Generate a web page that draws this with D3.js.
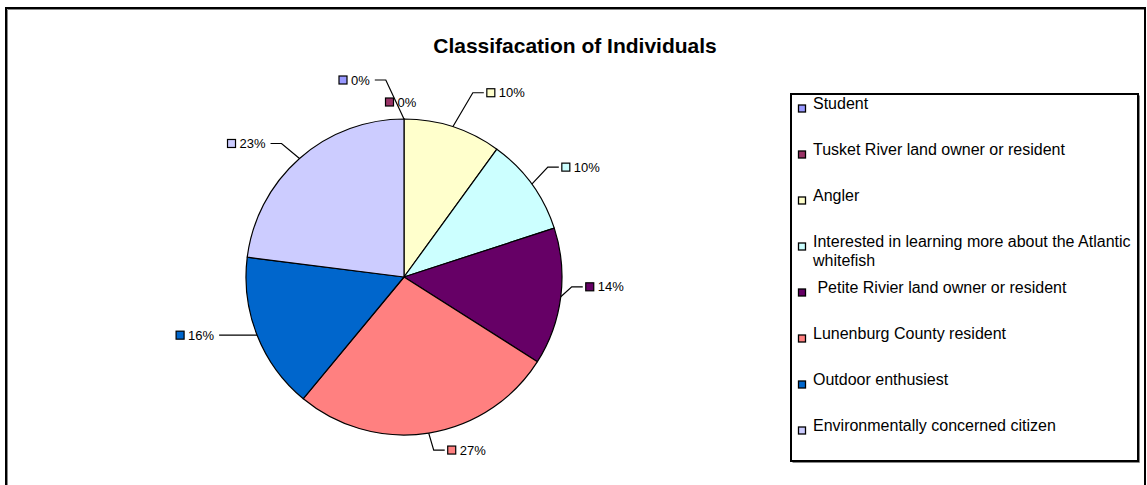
<!DOCTYPE html>
<html>
<head>
<meta charset="utf-8">
<script src="https://cdn.jsdelivr.net/npm/d3@7"></script>
<style>
  html, body { margin: 0; padding: 0; background: #fff; }
  svg { display: block; }
  text { font-family: "Liberation Sans", Arial, sans-serif; white-space: pre; }
</style>
</head>
<body>
<svg id="chart" width="1147" height="485"></svg>
<script>
// ---- data ----
const categories = [
  "Student",
  "Tusket River land owner or resident",
  "Angler",
  "Interested in learning more about the Atlantic whitefish",
  " Petite Rivier land owner or resident",
  "Lunenburg County resident",
  "Outdoor enthusiest",
  "Environmentally concerned citizen"
];
const values = [0, 0, 10, 10, 14, 27, 16, 23];
const colors = ["#9999FF", "#993366", "#FFFFCC", "#CCFFFF", "#660066", "#FF8080", "#0066CC", "#CCCCFF"];
const title = "Classifacation of Individuals";

// ---- layout (label offsets from slice edge point, in px) ----
const labelOffsets = [[-61, -39], [-14.5, -17], [38, -34], [34, -17], [29, -10], [23, 17], [-77, 0], [-68, -15]];
const showLeader = [true, false, true, true, true, true, true, true];

const svg = d3.select("#chart");

// outer frame
svg.append("rect").attr("x", 6).attr("y", 8).attr("width", 1139).attr("height", 520)
  .attr("fill", "#fff").attr("stroke", "#000").attr("stroke-width", 2);
svg.append("path").attr("d", "M7.5,528 V9.5 H1144").attr("fill", "none").attr("stroke", "#888").attr("stroke-width", 1);

// title
svg.append("text").attr("x", 575).attr("y", 53).attr("text-anchor", "middle")
  .attr("font-size", 21).attr("font-weight", "bold").attr("fill", "#000").text(title);

// pie
const cx = 404, cy = 277, R = 158;
const total = d3.sum(values);
const pct = d3.format(".0%");
const pie = d3.pie().sort(null).value(d => d)(values);
const arc = d3.arc().innerRadius(0).outerRadius(R);
const g = svg.append("g").attr("transform", `translate(${cx},${cy})`);
g.selectAll("path.slice").data(pie).join("path")
  .attr("class", "slice")
  .attr("d", arc)
  .attr("fill", (d, i) => colors[i])
  .attr("stroke", "#000").attr("stroke-width", 1.2).attr("stroke-linejoin", "round");

// data labels
pie.forEach((d, i) => {
  const mid = (d.startAngle + d.endAngle) / 2;
  const px = R * Math.sin(mid), py = -R * Math.cos(mid);
  const sx = px + labelOffsets[i][0], sy = py + labelOffsets[i][1];
  const lg = g.append("g");
  lg.append("rect").attr("x", sx - 4).attr("y", sy - 4).attr("width", 8).attr("height", 8)
    .attr("fill", colors[i]).attr("stroke", "#000").attr("stroke-width", 1.2);
  const t = lg.append("text").attr("x", sx + 8).attr("y", sy).attr("dy", "0.36em")
    .attr("font-size", 13).attr("fill", "#000").text(pct(values[i] / total));
  if (showLeader[i]) {
    const right = sx > px;
    let ex, elx;
    if (right) { ex = sx - 7; elx = ex - 11; }
    else { ex = sx + 8 + t.node().getComputedTextLength() + 5; elx = ex + 11; }
    const path = d3.path();
    path.moveTo(px, py);
    path.lineTo(elx, sy);
    path.lineTo(ex, sy);
    lg.insert("path", ":first-child").attr("d", path.toString())
      .attr("fill", "none").attr("stroke", "#000").attr("stroke-width", 1.2);
  }
});

// legend
const lx = 791, ly = 94, lw = 347, lh = 367;
svg.append("rect").attr("x", lx).attr("y", ly).attr("width", lw).attr("height", lh)
  .attr("fill", "#fff").attr("stroke", "#000").attr("stroke-width", 2);
svg.append("path").attr("d", `M${lx + 1.5},${ly + lh + 1.5} H${lx + lw + 1.5} V${ly + 1.5}`)
  .attr("fill", "none").attr("stroke", "#888").attr("stroke-width", 1);
const rowStep = 46, firstRow = ly + 14.5;
const maxTextW = lw - 20;
categories.forEach((c, i) => {
  const y = firstRow + i * rowStep;
  svg.append("rect").attr("x", lx + 7.5).attr("y", y - 3.5).attr("width", 7).attr("height", 7)
    .attr("fill", colors[i]).attr("stroke", "#000").attr("stroke-width", 1.3);
  const t = svg.append("text").attr("x", lx + 22).attr("y", y).attr("dy", "0.34em")
    .attr("font-size", 16).attr("fill", "#000");
  // word wrap
  const words = c.split(" ");
  let line = [], tspan = t.append("tspan").attr("x", lx + 22).attr("dy", 0);
  words.forEach((w) => {
    line.push(w);
    tspan.text(line.join(" "));
    if (tspan.node().getComputedTextLength() > maxTextW && line.length > 1) {
      line.pop();
      tspan.text(line.join(" "));
      line = [w];
      tspan = t.append("tspan").attr("x", lx + 22).attr("dy", "19.5px").text(w);
    }
  });
});
</script>
</body>
</html>
